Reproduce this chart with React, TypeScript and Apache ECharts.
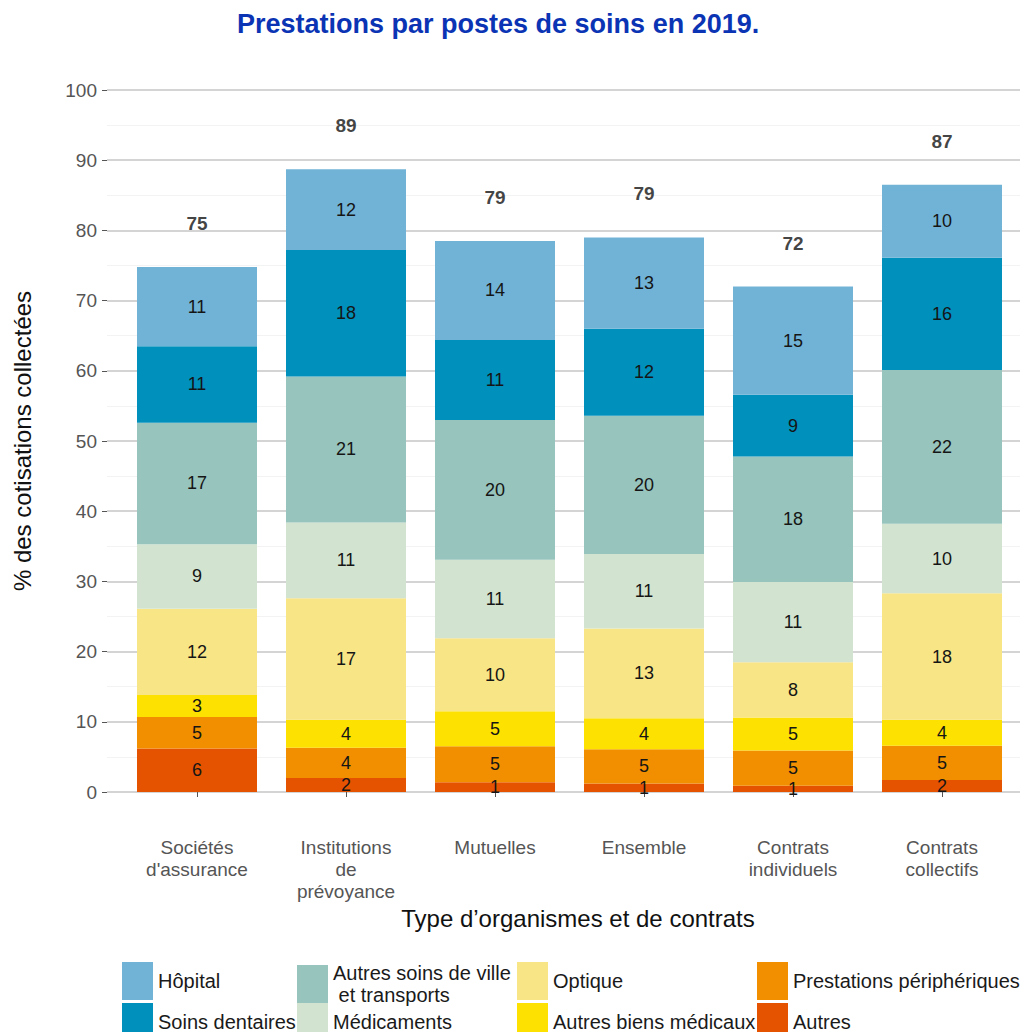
import React, { useEffect, useRef } from "react";
import * as echarts from "echarts";

// Categories (organisation and contract types)
const categories = [
  "Sociétés\nd'assurance",
  "Institutions\nde\nprévoyance",
  "Mutuelles",
  "Ensemble",
  "Contrats\nindividuels",
  "Contrats\ncollectifs",
];

// Share of collected contributions paid out, by care item (%), bottom to top of each stack
const autres = [6.2, 2.0, 1.4, 1.2, 0.9, 1.7];
const prestationsPeripheriques = [4.5, 4.3, 5.1, 4.9, 5.0, 4.9];
const autresBiensMedicaux = [3.1, 4.0, 5.0, 4.4, 4.7, 3.7];
const optique = [12.3, 17.3, 10.4, 12.8, 7.9, 18.0];
const medicaments = [9.2, 10.8, 11.2, 10.6, 11.4, 9.9];
const autresSoinsVille = [17.3, 20.8, 19.9, 19.7, 17.9, 21.9];
const soinsDentaires = [10.9, 18.0, 11.4, 12.4, 8.8, 16.0];
const hopital = [11.3, 11.5, 14.1, 13.0, 15.4, 10.4];

const yTicks = { min: 0, max: 100, interval: 10 };

const stackSeries = [
  { name: "Autres", data: autres, color: "#E65300" },
  { name: "Prestations périphériques", data: prestationsPeripheriques, color: "#F28F00" },
  { name: "Autres biens médicaux", data: autresBiensMedicaux, color: "#FDE100" },
  { name: "Optique", data: optique, color: "#F8E586" },
  { name: "Médicaments", data: medicaments, color: "#D2E4D0" },
  { name: "Autres soins de ville et transports", data: autresSoinsVille, color: "#97C4BC" },
  { name: "Soins dentaires", data: soinsDentaires, color: "#0090BC" },
  { name: "Hôpital", data: hopital, color: "#71B3D7" },
];

// Legend grid: columns read top to bottom
const legendColumns = [
  ["Hôpital", "Soins dentaires"],
  ["Autres soins de ville et transports", "Médicaments"],
  ["Optique", "Autres biens médicaux"],
  ["Prestations périphériques", "Autres"],
];
const legendLefts = [122, 297, 517, 757];
const legendTops = [962, 1003];

const totals = categories.map((_, i) =>
  Number(stackSeries.reduce((s, ser) => s + ser.data[i], 0).toFixed(1))
);

const FONT = "'Liberation Sans', Arial, Helvetica, sans-serif";

export default function App() {
  const ref = useRef<HTMLDivElement>(null);

  useEffect(() => {
    if (!ref.current) return;
    const chart = echarts.init(ref.current, null, { renderer: "svg" });

    // one legend block per entry so the 4 x 2 layout stays fixed
    const legends: any[] = [];
    legendColumns.forEach((col, k) =>
      col.forEach((name, r) =>
        legends.push({
          left: legendLefts[k],
          top: legendTops[r],
          padding: 0,
          itemWidth: 31,
          itemHeight: 38,
          icon: "rect",
          selectedMode: false,
          data: [name],
          formatter: (n: string) =>
            n === "Autres soins de ville et transports" ? "Autres soins de ville\n et transports" : n,
          textStyle: { fontSize: 20, color: "#1a1a1a", lineHeight: 22, fontFamily: FONT },
        })
      )
    );

    const option: any = {
      animation: false,
      backgroundColor: "#ffffff",
      textStyle: { fontFamily: FONT },
      title: {
        text: "Prestations par postes de soins en 2019.",
        left: 232,
        top: 5,
        textStyle: { fontSize: 27, fontWeight: "bold", color: "#0A34B4", fontFamily: FONT },
      },
      legend: legends,
      grid: [
        { left: 107, right: 4, top: 90, height: 702 },
        { left: 122.5, width: 894, top: 90, height: 702 },
      ],
      xAxis: [
        { type: "category", gridIndex: 0, data: categories, show: false },
        {
          type: "category",
          gridIndex: 1,
          data: categories,
          offset: 35,
          axisLine: { show: false },
          axisTick: { show: true, alignWithLabel: true, length: 5, lineStyle: { color: "#555" } },
          axisLabel: { interval: 0, fontSize: 19, lineHeight: 22, color: "#555", margin: 9 },
          name: "Type d’organismes et de contrats",
          nameLocation: "middle",
          nameGap: 77,
          nameTextStyle: { fontSize: 24, color: "#111", padding: [0, 0, 0, 17] },
        },
      ],
      yAxis: [
        {
          type: "value",
          gridIndex: 0,
          min: yTicks.min,
          max: yTicks.max,
          interval: yTicks.interval,
          axisLine: { show: false },
          axisTick: { show: true, length: 5, lineStyle: { color: "#555" } },
          axisLabel: { fontSize: 19, color: "#555", margin: 10 },
          splitLine: { show: true, lineStyle: { color: "#d4d4d4", width: 2 } },
          minorTick: { show: false, splitNumber: 2 },
          minorSplitLine: { show: true, lineStyle: { color: "#f3f3f3", width: 1 } },
          name: "% des cotisations collectées",
          nameLocation: "middle",
          nameGap: 73,
          nameTextStyle: { fontSize: 24, color: "#111" },
        },
        { type: "value", gridIndex: 1, min: yTicks.min, max: yTicks.max, show: false },
      ],
      series: [
        ...stackSeries.map((s) => ({
          type: "bar",
          name: s.name,
          stack: "total",
          xAxisIndex: 1,
          yAxisIndex: 1,
          barWidth: 120,
          data: s.data,
          itemStyle: { color: s.color },
          label: {
            show: true,
            position: "inside",
            fontSize: 18,
            color: "#151515",
            formatter: (p: any) => String(Math.round(p.value)),
          },
        })),
        {
          type: "scatter",
          name: "Total",
          xAxisIndex: 1,
          yAxisIndex: 1,
          symbolSize: 0,
          data: totals,
          label: {
            show: true,
            position: "top",
            distance: 34,
            fontSize: 19,
            fontWeight: "bold",
            color: "#111",
            formatter: (p: any) => String(Math.round(p.value)),
          },
        },
      ],
    };

    chart.setOption(option);
    return () => chart.dispose();
  }, []);

  return (
    <div
      ref={ref}
      style={{ position: "fixed", left: 0, top: 0, width: 1024, height: 1032, background: "#fff" }}
    />
  );
}
